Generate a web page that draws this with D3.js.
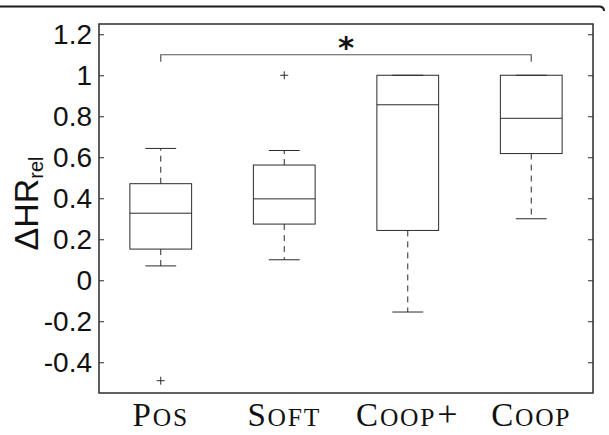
<!DOCTYPE html>
<html>
<head>
<meta charset="utf-8">
<script src="https://cdn.jsdelivr.net/npm/d3@7"></script>
<style>
  body { margin: 0; background: #fff; }
  svg { display: block; }
</style>
</head>
<body>
<div id="chart"></div>
<script>
// Box plot values
const categories = ['Pos', 'Soft', 'Coop+', 'Coop'];
const whiskerLow = [0.07, 0.10, -0.155, 0.30];
const q1 = [0.152, 0.274, 0.243, 0.618];
const median = [0.327, 0.397, 0.856, 0.79];
const q3 = [0.471, 0.562, 1.0, 1.0];
const whiskerHigh = [0.643, 0.633, 1.0, 1.0];
const outlierCats = ['Pos', 'Soft'];
const outlierValues = [-0.49, 1.0];
const yTicks = [-0.4, -0.2, 0, 0.2, 0.4, 0.6, 0.8, 1, 1.2];
// significance bracket between Pos and Coop
const sigPair = ['Pos', 'Coop'];
const sigLevel = 1.1;

const w = 609;
const h = 435;
const margin = { top: 24, right: 16, bottom: 42, left: 99 };
const ink = '#2b2b2b';

const boxes = categories.map((c, i) => ({
  cat: c, lo: whiskerLow[i], q1: q1[i], med: median[i], q3: q3[i], hi: whiskerHigh[i], pos: i + 1
}));

const svg = d3.select('#chart')
  .append('svg')
  .attr('width', w)
  .attr('height', h);

// scales: positions 1..4 in a 0.5..4.5 domain
const xScale = d3.scaleLinear()
  .domain([0.5, categories.length + 0.5])
  .range([margin.left, w - margin.right]);

const yScale = d3.scaleLinear()
  .domain([-0.55, 1.25])
  .range([h - margin.bottom, margin.top]);

const xPos = c => xScale(categories.indexOf(c) + 1);
const boxW = xScale(1.25) - xScale(1);

// top frame line of the figure panel
svg.append('path')
  .attr('d', `M0,6.5 H${w - 10} Q${w - 5},6.5 ${w - 5},11`)
  .attr('fill', 'none')
  .attr('stroke', '#1a1a1a')
  .attr('stroke-width', 2);

// y axes with inward ticks on both sides
const yAxisL = d3.axisRight(yScale).tickValues(yTicks).tickSize(5).tickFormat('');
const yAxisR = d3.axisLeft(yScale).tickValues(yTicks).tickSize(5).tickFormat('');

svg.append('g')
  .attr('transform', `translate(${margin.left}, 0)`)
  .call(yAxisL)
  .call(g => g.select('.domain').remove())
  .selectAll('.tick line').attr('stroke', ink);

svg.append('g')
  .attr('transform', `translate(${w - margin.right}, 0)`)
  .call(yAxisR)
  .call(g => g.select('.domain').remove())
  .selectAll('.tick line').attr('stroke', ink);

// tick labels (plain hyphen for negatives, like the original)
svg.append('g')
  .selectAll('text')
  .data(yTicks)
  .join('text')
  .attr('x', margin.left - 7)
  .attr('y', d => yScale(d))
  .attr('dy', '0.36em')
  .attr('text-anchor', 'end')
  .attr('font-family', 'Liberation Sans, Arial, sans-serif')
  .attr('font-size', 28)
  .attr('fill', '#111')
  .text(d => String(d));

// plot frame
svg.append('rect')
  .attr('x', margin.left)
  .attr('y', margin.top)
  .attr('width', w - margin.left - margin.right)
  .attr('height', h - margin.top - margin.bottom)
  .attr('fill', 'none')
  .attr('stroke', ink)
  .attr('stroke-width', 1.5);

// whiskers (dashed)
const bx = svg.append('g').attr('stroke', ink).attr('stroke-width', 1).attr('fill', 'none');

bx.selectAll('.whisker-hi')
  .data(boxes.filter(d => d.hi > d.q3))
  .join('line')
  .attr('x1', d => xScale(d.pos)).attr('x2', d => xScale(d.pos))
  .attr('y1', d => yScale(d.q3)).attr('y2', d => yScale(d.hi))
  .attr('stroke-dasharray', '6,5');

bx.selectAll('.whisker-lo')
  .data(boxes.filter(d => d.lo < d.q1))
  .join('line')
  .attr('x1', d => xScale(d.pos)).attr('x2', d => xScale(d.pos))
  .attr('y1', d => yScale(d.q1)).attr('y2', d => yScale(d.lo))
  .attr('stroke-dasharray', '6,5');

// whisker caps
['hi', 'lo'].forEach(k => {
  bx.selectAll('.cap-' + k)
    .data(boxes)
    .join('line')
    .attr('x1', d => xScale(d.pos) - boxW / 2)
    .attr('x2', d => xScale(d.pos) + boxW / 2)
    .attr('y1', d => yScale(d[k]))
    .attr('y2', d => yScale(d[k]));
});

// boxes
bx.selectAll('rect')
  .data(boxes)
  .join('rect')
  .attr('x', d => xScale(d.pos) - boxW)
  .attr('width', boxW * 2)
  .attr('y', d => yScale(d.q3))
  .attr('height', d => yScale(d.q1) - yScale(d.q3));

// medians
bx.selectAll('.median')
  .data(boxes)
  .join('line')
  .attr('x1', d => xScale(d.pos) - boxW)
  .attr('x2', d => xScale(d.pos) + boxW)
  .attr('y1', d => yScale(d.med))
  .attr('y2', d => yScale(d.med));

// outliers as '+'
const outliers = outlierCats.map((c, i) => ({ x: xPos(c), y: yScale(outlierValues[i]) }));
bx.selectAll('.outlier')
  .data(outliers)
  .join('path')
  .attr('d', d => `M${d.x - 4},${d.y} H${d.x + 4} M${d.x},${d.y - 4} V${d.y + 4}`);

// significance bracket
const bY = yScale(sigLevel);
const bx1 = xPos(sigPair[0]);
const bx2 = xPos(sigPair[1]);
svg.append('path')
  .attr('d', `M${bx1},${bY + 7} V${bY} H${bx2} V${bY + 7}`)
  .attr('fill', 'none')
  .attr('stroke', '#555')
  .attr('stroke-width', 1.2);

svg.append('text')
  .attr('x', (bx1 + bx2) / 2)
  .attr('y', bY + 3)
  .attr('text-anchor', 'middle')
  .attr('font-family', 'DejaVu Sans, sans-serif')
  .attr('font-weight', 'bold')
  .attr('font-size', 31)
  .attr('fill', '#111')
  .text('*');

// category labels in small caps
const xl = svg.append('g')
  .attr('font-family', 'Liberation Serif, Times New Roman, serif')
  .attr('fill', '#111');

categories.forEach((c, i) => {
  const t = xl.append('text')
    .attr('x', xScale(i + 1))
    .attr('y', h - 9)
    .attr('text-anchor', 'middle')
    .attr('letter-spacing', 1.8);
  const rest = c.slice(1).replace('+', '');
  t.append('tspan').attr('font-size', 33).text(c[0]);
  t.append('tspan').attr('font-size', 25.5).text(rest.toUpperCase());
  if (c.endsWith('+')) t.append('tspan').attr('font-size', 36).attr('dx', 1).text('+');
});

// y label: ΔHR_rel
const yl = svg.append('text')
  .attr('transform', `translate(38, ${(margin.top + h - margin.bottom) / 2 - 5}) rotate(-90)`)
  .attr('text-anchor', 'middle')
  .attr('font-family', 'Liberation Sans, Arial, sans-serif')
  .attr('fill', '#111');
yl.append('tspan').attr('font-size', 34).text('ΔHR');
yl.append('tspan').attr('font-size', 20).attr('dy', 5).text('rel');
</script>
</body>
</html>
